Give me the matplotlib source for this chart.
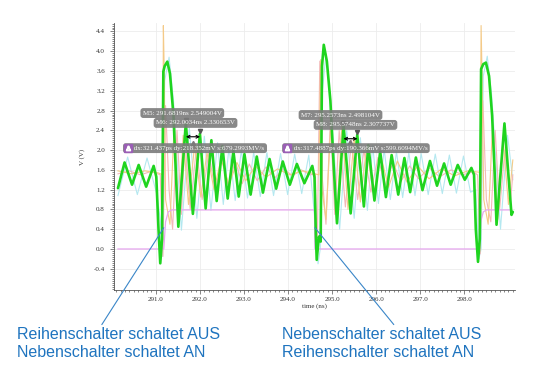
import matplotlib
matplotlib.use("Agg")
import matplotlib.pyplot as plt
from matplotlib.ticker import MultipleLocator, FormatStrFormatter

plt.rcParams['axes.unicode_minus'] = False

# main node voltage (thick green trace)
green_t = [290.14, 290.29, 290.46, 290.61, 290.78, 290.95, 291.01, 291.06, 291.10, 291.14,
           291.17, 291.20, 291.26, 291.32, 291.40, 291.46, 291.51, 291.68, 291.84, 292.00,
           292.13, 292.26, 292.38, 292.51, 292.63, 292.76, 292.88, 293.01, 293.15, 293.29,
           293.43, 293.58, 293.73, 293.88, 294.04, 294.20, 294.37, 294.55, 294.60, 294.63,
           294.65, 294.70, 294.74, 294.77, 294.81, 294.88, 294.96, 295.04, 295.11, 295.26,
           295.42, 295.57, 295.72, 295.82, 295.96, 296.09, 296.22, 296.35, 296.50, 296.64,
           296.77, 296.90, 297.05, 297.22, 297.38, 297.54, 297.69, 297.85, 298.01, 298.16,
           298.22, 298.26, 298.31, 298.35, 298.38, 298.43, 298.49, 298.56, 298.63, 298.69,
           298.73, 298.91, 299.07, 299.10]
green_v = [1.23, 1.75, 1.30, 1.70, 1.26, 1.68, 1.46, 0.40, -0.29, 0.20,
           3.59, 3.70, 3.79, 3.55, 2.70, 1.40, 0.45, 2.55, 0.71, 2.33,
           0.82, 2.20, 0.97, 2.08, 1.02, 1.98, 1.06, 1.92, 1.10, 1.87,
           1.14, 1.82, 1.22, 1.77, 1.30, 1.72, 1.33, 1.68, 1.45, 0.30,
           -0.22, 0.25, 0.15, 3.70, 4.13, 3.80, 3.00, 1.60, 0.52, 2.50,
           0.72, 2.31, 0.86, 2.10, 0.98, 1.97, 1.05, 1.90, 1.10, 1.84,
           1.15, 1.85, 1.19, 1.78, 1.28, 1.73, 1.30, 1.70, 1.40, 1.64,
           1.50, 0.40, -0.26, 0.20, 3.64, 3.74, 3.77, 3.50, 2.70, 1.50,
           0.49, 2.54, 0.69, 0.75]

cyan_t = [290.14, 290.36, 290.58, 290.80, 291.02, 291.10, 291.15, 291.20, 291.30, 291.40,
          291.58, 291.76, 291.93, 292.10, 292.25, 292.40, 292.53, 292.66, 292.80, 292.94,
          293.08, 293.22, 293.37, 293.52, 293.67, 293.83, 293.99, 294.15, 294.31, 294.47,
          294.63, 294.68, 294.73, 294.78, 294.86, 294.95, 295.17, 295.33, 295.50, 295.64,
          295.80, 295.92, 296.05, 296.18, 296.32, 296.46, 296.60, 296.74, 296.88, 297.02,
          297.18, 297.34, 297.50, 297.66, 297.82, 297.98, 298.14, 298.26, 298.33, 298.38,
          298.43, 298.52, 298.62, 298.82, 298.98, 299.10]
cyan_v = [1.08, 1.86, 1.10, 1.84, 1.12, 0.60, -0.15, 3.40, 3.88, 3.00,
          0.38, 2.45, 0.62, 2.28, 0.78, 2.15, 0.90, 2.06, 0.98, 2.00,
          1.03, 1.96, 1.06, 1.95, 1.08, 1.93, 1.10, 1.92, 1.12, 1.90,
          0.40, -0.30, 0.00, 3.20, 3.95, 3.10, 0.40, 2.40, 0.62, 2.25,
          0.78, 2.10, 0.92, 2.02, 1.00, 1.97, 1.04, 1.95, 1.08, 1.93,
          1.10, 1.92, 1.12, 1.90, 1.13, 1.88, 1.15, 1.20, -0.20, 0.00,
          3.50, 3.90, 3.10, 0.40, 2.30, 1.40]

pink_t = [290.14, 290.40, 290.65, 290.90, 291.10, 291.16, 291.22, 291.30, 291.38, 291.48,
          291.58, 291.66, 291.78, 291.92, 292.05, 292.20, 292.35, 292.50, 292.65, 292.80,
          292.96, 293.12, 293.30, 293.50, 293.70, 293.90, 294.10, 294.30, 294.50, 294.62,
          294.66, 294.72, 294.78, 294.86, 294.96, 295.06, 295.16, 295.30, 295.44, 295.58,
          295.72, 295.88, 296.04, 296.20, 296.38, 296.56, 296.76, 296.96, 297.20, 297.44,
          297.70, 297.96, 298.20, 298.30, 298.36, 298.42, 298.50, 298.60, 298.70, 298.80,
          298.92, 299.05, 299.10]
pink_v = [1.52, 1.58, 1.50, 1.57, 1.50, -0.15, 2.90, 1.20, 0.40, 2.40,
          0.70, 2.20, 0.80, 2.05, 1.00, 1.95, 1.15, 1.85, 1.25, 1.78,
          1.32, 1.72, 1.38, 1.66, 1.44, 1.62, 1.48, 1.60, 1.50, 1.52,
          -0.10, 3.80, 1.40, 0.50, 2.60, 0.70, 2.40, 0.85, 2.20, 1.00,
          2.00, 1.15, 1.85, 1.28, 1.75, 1.36, 1.68, 1.42, 1.64, 1.46,
          1.60, 1.50, 1.56, 1.50, -0.10, 3.00, 1.00, 0.55, 2.40, 0.80,
          2.00, 1.00, 1.50]

orange_t = [290.14, 290.45, 290.75, 291.05, 291.16, 291.17, 291.19, 291.22, 291.32, 291.42,
            291.52, 291.62, 291.74, 291.88, 292.02, 292.16, 292.32, 292.48, 292.66, 292.84,
            293.04, 293.26, 293.50, 293.76, 294.04, 294.34, 294.60, 294.70, 294.74, 294.77,
            294.86, 294.98, 295.10, 295.22, 295.36, 295.50, 295.64, 295.78, 295.94, 296.10,
            296.28, 296.48, 296.70, 296.94, 297.20, 297.48, 297.78, 298.08, 298.36, 298.38,
            298.40, 298.44, 298.54, 298.64, 298.76, 298.88, 299.00, 299.10]
orange_v = [1.58, 1.52, 1.58, 1.54, 1.50, 4.52, 3.60, 1.00, 0.50, 2.60,
            0.60, 2.30, 0.90, 2.10, 1.05, 1.95, 1.20, 1.82, 1.30, 1.75,
            1.38, 1.68, 1.45, 1.62, 1.50, 1.58, 1.52, 1.50, 3.83, 1.20,
            0.60, 2.70, 0.55, 2.50, 0.80, 2.25, 0.95, 2.05, 1.10, 1.90,
            1.25, 1.78, 1.35, 1.68, 1.42, 1.62, 1.48, 1.58, 1.55, 4.52,
            3.60, 1.00, 0.50, 2.50, 0.60, 2.20, 0.90, 1.80]

# gate signal (violet step)
gate_t = [290.14, 291.18, 291.22, 291.28, 291.36, 294.60, 294.61, 298.33, 298.37, 298.43, 298.50, 299.05]
gate_v = [0.0, 0.0, 0.55, 0.75, 0.79, 0.79, 0.0, 0.0, 0.55, 0.75, 0.79, 0.79]

# cursor markers
marker_t = [291.6819, 292.0034, 295.2573, 295.5748]
marker_v = [2.549004, 2.330653, 2.498104, 2.307737]
marker_names = ["M5", "M6", "M7", "M8"]
delta_labels = ["dx:321.437ps dy:218.352mV s:679.2993MV/s",
                "dx:317.4887ps dy:190.366mV s:599.6094MV/s"]

x_ticks = [291.0, 292.0, 293.0, 294.0, 295.0, 296.0, 297.0, 298.0]
y_ticks = [-0.4, 0.0, 0.4, 0.8, 1.2, 1.6, 2.0, 2.4, 2.8, 3.2, 3.6, 4.0, 4.4]

fig = plt.figure(figsize=(5.41, 3.72), dpi=100)
ax = fig.add_axes([0.2107, 0.2204, 0.7413, 0.7176])

ax.plot(cyan_t, cyan_v, color='#b4e8f0', lw=0.8, zorder=2)
ax.plot(pink_t, pink_v, color='#f3b8b8', lw=0.8, zorder=2)
ax.plot(orange_t, orange_v, color='#f4ca88', lw=0.8, zorder=2)
ax.plot(gate_t, gate_v, color='#e6a6ee', lw=0.9, zorder=2)
ax.plot(green_t, green_v, color='#1fd41f', lw=1.9, zorder=3,
        solid_joinstyle='round', solid_capstyle='round')

ax.set_xlim(290.05, 299.15)
ax.set_ylim(-0.83, 4.57)

ax.set_xticks(x_ticks)
ax.set_yticks(y_ticks)
ax.xaxis.set_major_formatter(FormatStrFormatter('%.1f'))
ax.xaxis.set_minor_locator(MultipleLocator(0.1))
ax.yaxis.set_major_formatter(FormatStrFormatter('%.1f'))
ax.yaxis.set_minor_locator(MultipleLocator(0.04))
ax.tick_params(which='both', direction='out', color='#555555', width=0.5,
               labelsize=5, labelcolor='#333333')
ax.tick_params(which='major', length=3)
ax.tick_params(axis='x', which='major', pad=2)
ax.tick_params(which='minor', length=1.6)
for lab in ax.get_xticklabels() + ax.get_yticklabels():
    lab.set_family('Liberation Serif')

ax.grid(True, which='major', color='#ececec', lw=0.6, zorder=0)
for side in ['top', 'right']:
    ax.spines[side].set_visible(False)
for side in ['left', 'bottom']:
    ax.spines[side].set_color('#555555')
    ax.spines[side].set_linewidth(0.6)

ax.set_xlabel('time (ns)', family='Liberation Serif', fontsize=5, color='#333333', labelpad=1)
ax.set_ylabel('V (V)', family='Liberation Serif', fontsize=5, color='#333333', labelpad=6)

box = dict(boxstyle='round,pad=0.35,rounding_size=0.4', fc='#7b7b7b', ec='none', alpha=0.9)
lab_pos = [(291.60, 2.75), (291.90, 2.55), (295.19, 2.71), (295.53, 2.51)]
for i in range(4):
    ax.plot(marker_t[i], marker_v[i] + 0.06, marker='v', ms=3, color='#555555', zorder=4)
    ax.text(lab_pos[i][0], lab_pos[i][1],
            f"{marker_names[i]}: {marker_t[i]:.4f}ns {marker_v[i]:.6f}V",
            ha='center', va='center', fontsize=5, color='white',
            family='Liberation Serif', bbox=box, zorder=6)

# delta readouts with a purple delta icon drawn as markers
delta_pos = [(290.31, 2.04), (293.92, 2.04)]
for i in range(2):
    ax.text(delta_pos[i][0], delta_pos[i][1], "     " + delta_labels[i],
            ha='left', va='center', fontsize=5, color='white',
            family='Liberation Serif', bbox=box, zorder=6)
    ax.plot(delta_pos[i][0] + 0.06, delta_pos[i][1], marker='s', ms=5.5,
            color='#9a5fb5', zorder=7)
    ax.plot(delta_pos[i][0] + 0.06, delta_pos[i][1], marker='$\\Delta$', ms=3.2,
            color='white', zorder=8)

# dx arrows between the cursor pairs
ax.annotate('', xy=(marker_t[0], 2.27), xytext=(marker_t[1], 2.27),
            arrowprops=dict(arrowstyle='<->', lw=0.8, color='black', mutation_scale=5,
                            shrinkA=0, shrinkB=0), zorder=5)
ax.annotate('', xy=(marker_t[2], 2.23), xytext=(marker_t[3], 2.23),
            arrowprops=dict(arrowstyle='<->', lw=0.8, color='black', mutation_scale=5,
                            shrinkA=0, shrinkB=0), zorder=5)
ax.plot([291.84, 295.40], [2.15, 2.17], ls='none', marker='^', ms=3, color='#777777', zorder=4)

# switching comments
blue = '#1f74bf'
ax.annotate("Reihenschalter schaltet AUS\nNebenschalter schaltet AN",
            xy=(291.18, 0.43), xycoords='data',
            xytext=(0.031, 0.12), textcoords='figure fraction',
            ha='left', va='top', fontsize=11.5, color=blue, family='Liberation Sans',
            arrowprops=dict(arrowstyle='-', color='#3a86c8', lw=0.8,
                            relpos=(0.41, 1.0), shrinkA=0, shrinkB=0))
ax.annotate("Nebenschalter schaltet AUS\nReihenschalter schaltet AN",
            xy=(294.61, 0.43), xycoords='data',
            xytext=(0.522, 0.12), textcoords='figure fraction',
            ha='left', va='top', fontsize=11.5, color=blue, family='Liberation Sans',
            arrowprops=dict(arrowstyle='-', color='#3a86c8', lw=0.8,
                            relpos=(0.57, 1.0), shrinkA=0, shrinkB=0))

plt.savefig('out.png', dpi=100, facecolor='white')
plt.close()
